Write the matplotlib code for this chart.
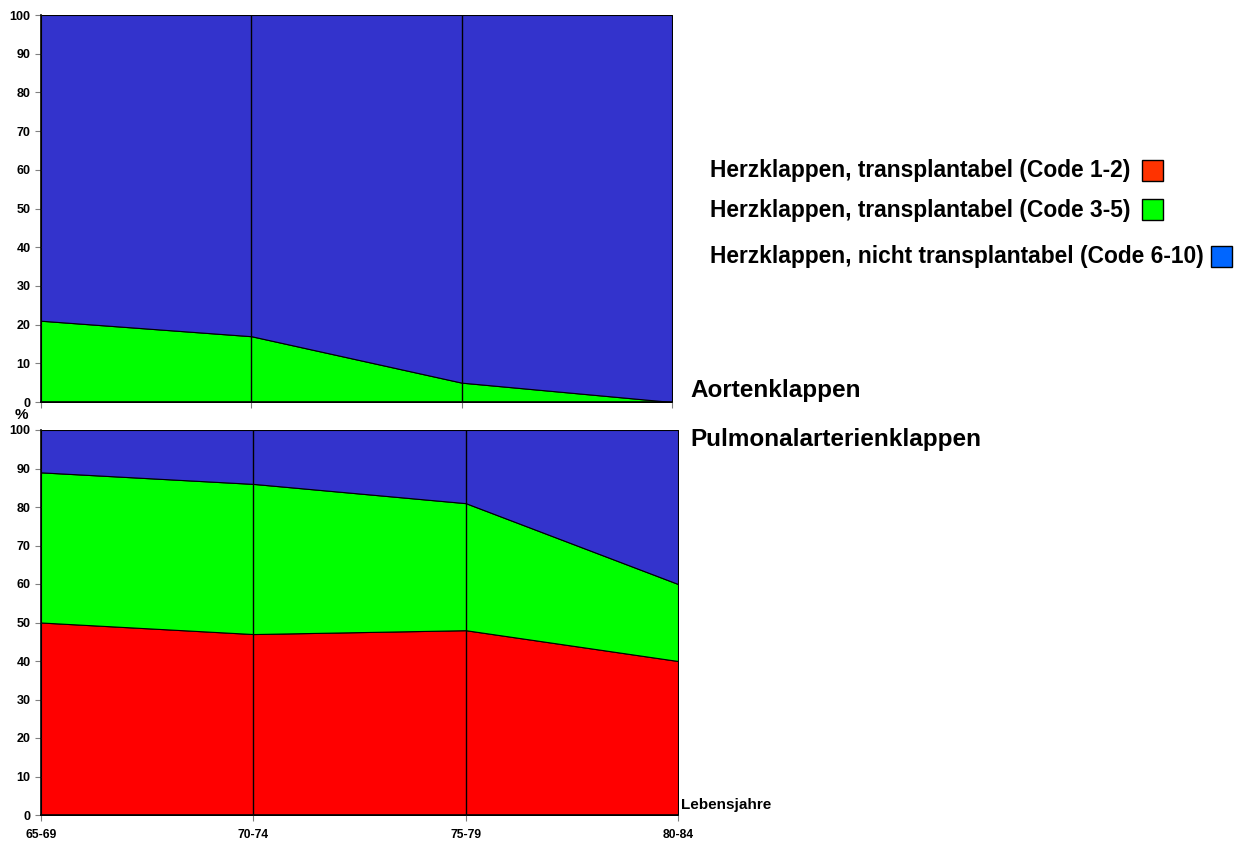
import matplotlib
matplotlib.use("Agg")
import matplotlib.pyplot as plt
import numpy as np

plt.rcParams['font.family'] = ['Liberation Sans', 'DejaVu Sans']
plt.rcParams['font.weight'] = 'bold'

categories = ["65-69", "70-74", "75-79", "80-84"]
# Aortenklappen
aorta_code12 = [0, 0, 0, 0]
aorta_code35 = [21, 17, 5, 0]
aorta_code610 = [79, 83, 95, 100]
# Pulmonalarterienklappen
pulm_code12 = [50, 47, 48, 40]
pulm_code35 = [39, 39, 33, 20]
pulm_code610 = [11, 14, 19, 40]

legend_labels = ["Herzklappen, transplantabel (Code 1-2)",
                 "Herzklappen, transplantabel (Code 3-5)",
                 "Herzklappen, nicht transplantabel (Code 6-10)"]
area_colors = ["#FF0000", "#00FF00", "#3333CC"]
legend_colors = ["#FF3300", "#00FF00", "#0066FF"]

fig = plt.figure(figsize=(12.42, 8.42), dpi=100)
W, H = 1242, 842
def ax_rect(x0, x1, y0, y1):
    return [x0 / W, 1 - y1 / H, (x1 - x0) / W, (y1 - y0) / H]

ax1 = fig.add_axes(ax_rect(41, 672, 15, 402))
ax2 = fig.add_axes(ax_rect(41, 678, 430, 815))

x = np.arange(len(categories))
for ax, data in [(ax1, [aorta_code12, aorta_code35, aorta_code610]),
                 (ax2, [pulm_code12, pulm_code35, pulm_code610])]:
    ax.stackplot(x, *data, colors=area_colors, edgecolor="black", linewidth=0.8)
    for xi in x[1:-1]:
        ax.axvline(xi, color="black", linewidth=1.0, zorder=3)
    ax.set_xlim(0, len(categories) - 1)
    ax.set_ylim(0, 100)
    ax.set_yticks(range(0, 101, 10))
    ax.set_xticks(x)
    for s in ["top", "right"]:
        ax.spines[s].set_visible(False)
    ax.spines["left"].set_linewidth(1.2)
    ax.spines["bottom"].set_linewidth(1.2)
    ax.tick_params(axis="both", direction="out", length=4, color="#808080",
                   labelsize=9)
    for lab in ax.get_yticklabels():
        lab.set_fontweight("bold")

ax1.set_xticklabels([])
ax2.set_xticklabels(categories, fontsize=8.7, fontweight="bold")
ax2.tick_params(axis="x", pad=6)

fig.text(21 / W, 1 - 415 / H, "%", fontsize=11, fontweight="bold", ha="center", va="center")
fig.text(690 / W, 1 - 390 / H, "Aortenklappen", fontsize=17.5, fontweight="bold", va="center")
fig.text(690 / W, 1 - 440 / H, "Pulmonalarterienklappen", fontsize=17.5, fontweight="bold", va="center")
fig.text(681 / W, 1 - 805 / H, "Lebensjahre", fontsize=11, fontweight="bold", va="center")

leg_y = [171, 210, 257]
box_x = [1142, 1142, 1211]
for lab, c, y, bx in zip(legend_labels, legend_colors, leg_y, box_x):
    fig.text(710 / W, 1 - y / H, lab, fontsize=16.4, fontweight="bold", va="center")
    fig.patches.append(plt.Rectangle((bx / W, 1 - (y + 10) / H), 21 / W, 21 / H,
                                     facecolor=c, edgecolor="black", linewidth=1,
                                     transform=fig.transFigure, figure=fig))

fig.savefig("out.png", dpi=100)
